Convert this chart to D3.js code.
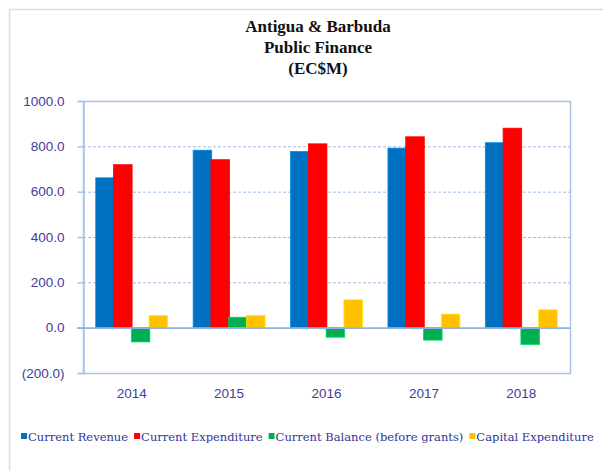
<!DOCTYPE html>
<meta charset="utf-8">
<style>
body {margin: 0; background: #fff;}
.tick text {font: 13.5px "Liberation Sans", sans-serif; fill: #40409a;}
.legend text {font: 11.5px "DejaVu Serif", serif; fill: #333399;}
</style>
<html>
<body>
<script src="https://d3js.org/d3.v7.min.js"></script>
<script>
var width = 603,
    height = 471;

var years = ["2014", "2015", "2016", "2017", "2018"];
var seriesNames = ["Current Revenue", "Current Expenditure", "Current Balance (before grants)", "Capital Expenditure"];
var colors = ["#0070c0", "#ff0000", "#00b050", "#ffc000"];
var yTicks = [-200, 0, 200, 400, 600, 800, 1000];

var revenue = [661, 783, 777, 792, 816];
var expenditure = [719, 741, 811, 842, 880];
var balance = [-63, 46, -42, -55, -74];
var capital = [53, 54, 123, 60, 79];

var values = [revenue, expenditure, balance, capital];

var margin = {left: 83, right: 33, top: 101, bottom: 98};

var svg = d3.select("body").append("svg")
    .attr("width", width)
    .attr("height", height);

// chart frame
svg.append("rect")
    .attr("x", 9.5).attr("y", 9.5)
    .attr("width", 700).attr("height", 600)
    .attr("fill", "none")
    .attr("stroke", "#dadded")
    .attr("stroke-width", 1.5);

// title
var title = svg.append("text")
    .attr("text-anchor", "middle")
    .attr("font-family", "Liberation Serif, serif")
    .attr("font-weight", "bold")
    .attr("font-size", 17)
    .attr("fill", "#111");
["Antigua & Barbuda", "Public Finance", "(EC$M)"].forEach(function(t, i) {
    title.append("tspan").attr("x", 318).attr("y", 32 + i * 21).text(t);
});

var x0 = d3.scaleBand()
    .domain(years)
    .range([margin.left, width - margin.right])
    .paddingInner(0.27)
    .paddingOuter(0.135);

var x1 = d3.scaleBand()
    .domain(d3.range(seriesNames.length))
    .range([0, x0.bandwidth()]);

var y = d3.scaleLinear()
    .domain([-200, 1000])
    .range([height - margin.bottom, margin.top]);

var fmt = function(d) {
    var s = d3.format(".1f")(Math.abs(d));
    return d < 0 ? "(" + s + ")" : s;
};

// gridlines
svg.append("g")
    .selectAll("line")
    .data(yTicks.filter(function(d) { return d > 0 && d < 1000; }))
    .enter().append("line")
    .attr("x1", margin.left).attr("x2", width - margin.right)
    .attr("y1", function(d) { return y(d) + 0.5; })
    .attr("y2", function(d) { return y(d) + 0.5; })
    .attr("stroke", "#9ebbe6")
    .attr("stroke-dasharray", "3,2");

// plot border
svg.append("rect")
    .attr("x", margin.left + 0.5)
    .attr("y", y(1000) + 0.5)
    .attr("width", width - margin.right - margin.left)
    .attr("height", y(-200) - y(1000))
    .attr("fill", "none")
    .attr("stroke", "#a9c4ea")
    .attr("stroke-width", 1.5);

// y axis
var yAxis = svg.append("g")
    .attr("transform", "translate(" + (margin.left + 0.5) + ",0)")
    .call(d3.axisLeft(y).tickValues(yTicks).tickFormat(fmt).tickSize(6).tickPadding(13));
yAxis.select(".domain").attr("stroke", "#a9c4ea").attr("stroke-width", 1.5);
yAxis.selectAll(".tick line").attr("stroke", "#a9c4ea").attr("stroke-width", 1.5);

// x labels
var xAxis = svg.append("g")
    .attr("transform", "translate(0," + y(-200) + ")")
    .call(d3.axisBottom(x0).tickSize(0).tickPadding(15));
xAxis.select(".domain").remove();

// bars
var groups = svg.append("g")
    .selectAll("g")
    .data(years)
    .enter().append("g")
    .attr("transform", function(d) { return "translate(" + x0(d) + ",0)"; });

groups.selectAll("rect")
    .data(function(d, i) {
        return values.map(function(v, k) { return {k: k, v: v[i]}; });
    })
    .enter().append("rect")
    .attr("x", function(d) { return x1(d.k) - 0.4; })
    .attr("width", x1.bandwidth() + 0.8)
    .attr("y", function(d) { return y(Math.max(0, d.v)); })
    .attr("height", function(d) { return Math.abs(y(d.v) - y(0)); })
    .attr("fill", function(d) { return colors[d.k]; })
    .attr("stroke", function(d) { return d3.color(colors[d.k]).brighter(0.6); })
    .attr("stroke-width", 0.8);

// zero line
svg.append("line")
    .attr("x1", margin.left - 6).attr("x2", width - margin.right)
    .attr("y1", y(0) + 0.5).attr("y2", y(0) + 0.5)
    .attr("stroke", "#8fb0e0")
    .attr("stroke-width", 1.8);

// legend
var legend = svg.append("g").attr("class", "legend");
var lx = 21;
seriesNames.forEach(function(name, i) {
    legend.append("rect")
        .attr("x", lx).attr("y", 433)
        .attr("width", 6).attr("height", 6)
        .attr("fill", colors[i]);
    var t = legend.append("text")
        .attr("x", lx + 7).attr("y", 441)
        .text(name);
    lx += 7 + t.node().getComputedTextLength() + 6;
});
</script>
</body>
</html>
